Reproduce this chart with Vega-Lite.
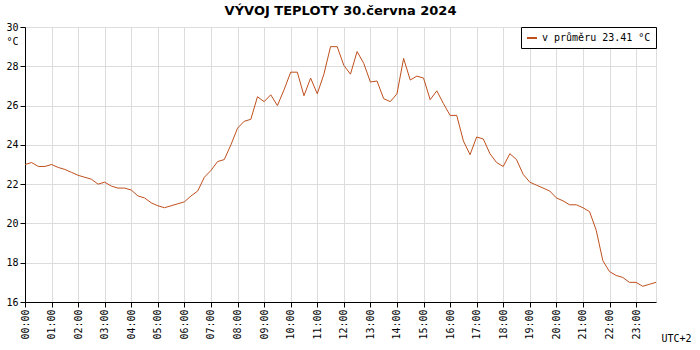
{
  "width": 631,
  "height": 275,
  "title": {"text": "VÝVOJ TEPLOTY  30.června 2024", "fontSize": 13, "font": "DejaVu Sans", "fontWeight": "bold", "color": "#000"},
  "config": {
    "axis": {"labelFont": "DejaVu Sans Mono", "labelFontSize": 10, "labelColor": "#000", "domainColor": "#000", "tickColor": "#000", "gridColor": "#dcdcdc", "titleFont": "DejaVu Sans Mono", "titleFontSize": 10, "titleFontWeight": "normal", "titleColor": "#000"}
  },
  "data": {"values": [
    {"time": "2024-06-30T00:00", "temp": 23.0},
    {"time": "2024-06-30T00:15", "temp": 23.1},
    {"time": "2024-06-30T00:30", "temp": 22.9},
    {"time": "2024-06-30T00:45", "temp": 22.9},
    {"time": "2024-06-30T01:00", "temp": 23.0},
    {"time": "2024-06-30T01:15", "temp": 22.85},
    {"time": "2024-06-30T01:30", "temp": 22.75},
    {"time": "2024-06-30T01:45", "temp": 22.6},
    {"time": "2024-06-30T02:00", "temp": 22.45},
    {"time": "2024-06-30T02:15", "temp": 22.35},
    {"time": "2024-06-30T02:30", "temp": 22.25},
    {"time": "2024-06-30T02:45", "temp": 22.0},
    {"time": "2024-06-30T03:00", "temp": 22.1},
    {"time": "2024-06-30T03:15", "temp": 21.9},
    {"time": "2024-06-30T03:30", "temp": 21.8},
    {"time": "2024-06-30T03:45", "temp": 21.8},
    {"time": "2024-06-30T04:00", "temp": 21.7},
    {"time": "2024-06-30T04:15", "temp": 21.4},
    {"time": "2024-06-30T04:30", "temp": 21.3},
    {"time": "2024-06-30T04:45", "temp": 21.05},
    {"time": "2024-06-30T05:00", "temp": 20.9},
    {"time": "2024-06-30T05:15", "temp": 20.8},
    {"time": "2024-06-30T05:30", "temp": 20.9},
    {"time": "2024-06-30T05:45", "temp": 21.0},
    {"time": "2024-06-30T06:00", "temp": 21.1},
    {"time": "2024-06-30T06:15", "temp": 21.4},
    {"time": "2024-06-30T06:30", "temp": 21.65},
    {"time": "2024-06-30T06:45", "temp": 22.35},
    {"time": "2024-06-30T07:00", "temp": 22.7},
    {"time": "2024-06-30T07:15", "temp": 23.15},
    {"time": "2024-06-30T07:30", "temp": 23.25},
    {"time": "2024-06-30T07:45", "temp": 24.0},
    {"time": "2024-06-30T08:00", "temp": 24.85},
    {"time": "2024-06-30T08:15", "temp": 25.2},
    {"time": "2024-06-30T08:30", "temp": 25.3},
    {"time": "2024-06-30T08:45", "temp": 26.45},
    {"time": "2024-06-30T09:00", "temp": 26.2},
    {"time": "2024-06-30T09:15", "temp": 26.55},
    {"time": "2024-06-30T09:30", "temp": 26.0},
    {"time": "2024-06-30T09:45", "temp": 26.8},
    {"time": "2024-06-30T10:00", "temp": 27.7},
    {"time": "2024-06-30T10:15", "temp": 27.7},
    {"time": "2024-06-30T10:30", "temp": 26.5},
    {"time": "2024-06-30T10:45", "temp": 27.4},
    {"time": "2024-06-30T11:00", "temp": 26.6},
    {"time": "2024-06-30T11:15", "temp": 27.6},
    {"time": "2024-06-30T11:30", "temp": 29.0},
    {"time": "2024-06-30T11:45", "temp": 29.0},
    {"time": "2024-06-30T12:00", "temp": 28.05},
    {"time": "2024-06-30T12:15", "temp": 27.6},
    {"time": "2024-06-30T12:30", "temp": 28.75},
    {"time": "2024-06-30T12:45", "temp": 28.15},
    {"time": "2024-06-30T13:00", "temp": 27.2},
    {"time": "2024-06-30T13:15", "temp": 27.25},
    {"time": "2024-06-30T13:30", "temp": 26.35},
    {"time": "2024-06-30T13:45", "temp": 26.2},
    {"time": "2024-06-30T14:00", "temp": 26.6},
    {"time": "2024-06-30T14:15", "temp": 28.4},
    {"time": "2024-06-30T14:30", "temp": 27.3},
    {"time": "2024-06-30T14:45", "temp": 27.5},
    {"time": "2024-06-30T15:00", "temp": 27.4},
    {"time": "2024-06-30T15:15", "temp": 26.3},
    {"time": "2024-06-30T15:30", "temp": 26.75},
    {"time": "2024-06-30T15:45", "temp": 26.1},
    {"time": "2024-06-30T16:00", "temp": 25.5},
    {"time": "2024-06-30T16:15", "temp": 25.5},
    {"time": "2024-06-30T16:30", "temp": 24.2},
    {"time": "2024-06-30T16:45", "temp": 23.5},
    {"time": "2024-06-30T17:00", "temp": 24.4},
    {"time": "2024-06-30T17:15", "temp": 24.3},
    {"time": "2024-06-30T17:30", "temp": 23.55},
    {"time": "2024-06-30T17:45", "temp": 23.1},
    {"time": "2024-06-30T18:00", "temp": 22.9},
    {"time": "2024-06-30T18:15", "temp": 23.55},
    {"time": "2024-06-30T18:30", "temp": 23.25},
    {"time": "2024-06-30T18:45", "temp": 22.5},
    {"time": "2024-06-30T19:00", "temp": 22.1},
    {"time": "2024-06-30T19:15", "temp": 21.95},
    {"time": "2024-06-30T19:30", "temp": 21.8},
    {"time": "2024-06-30T19:45", "temp": 21.65},
    {"time": "2024-06-30T20:00", "temp": 21.3},
    {"time": "2024-06-30T20:15", "temp": 21.15},
    {"time": "2024-06-30T20:30", "temp": 20.95},
    {"time": "2024-06-30T20:45", "temp": 20.95},
    {"time": "2024-06-30T21:00", "temp": 20.8},
    {"time": "2024-06-30T21:15", "temp": 20.6},
    {"time": "2024-06-30T21:30", "temp": 19.65},
    {"time": "2024-06-30T21:45", "temp": 18.1},
    {"time": "2024-06-30T22:00", "temp": 17.55},
    {"time": "2024-06-30T22:15", "temp": 17.35},
    {"time": "2024-06-30T22:30", "temp": 17.25},
    {"time": "2024-06-30T22:45", "temp": 17.0},
    {"time": "2024-06-30T23:00", "temp": 17.0},
    {"time": "2024-06-30T23:15", "temp": 16.8},
    {"time": "2024-06-30T23:30", "temp": 16.9},
    {"time": "2024-06-30T23:45", "temp": 17.0}
  ]},
  "mark": {"type": "line", "strokeWidth": 1},
  "encoding": {
    "x": {"field": "time", "type": "temporal", "axis": {"format": "%H:%M", "labelAngle": 270, "title": "UTC+2", "titleAngle": 0, "titleAlign": "left", "titleX": 636, "titleY": 31}},
    "y": {"field": "temp", "type": "quantitative", "scale": {"domain": [16, 30], "nice": false, "zero": false}, "axis": {"values": [16, 18, 20, 22, 24, 26, 28, 30], "title": "°C", "titleAngle": 0, "titleAlign": "center", "titleBaseline": "top", "titleX": -13, "titleY": 9}},
    "color": {
      "datum": "v průměru 23.41 °C",
      "scale": {"range": ["#bf4f1c"]},
      "legend": {"title": null, "orient": "top-right", "offset": 0, "fillColor": "white", "strokeColor": "#000", "padding": 5, "symbolType": "stroke", "symbolStrokeWidth": 2, "labelFont": "DejaVu Sans Mono", "labelFontSize": 10, "labelColor": "#000"}
    }
  }
}
